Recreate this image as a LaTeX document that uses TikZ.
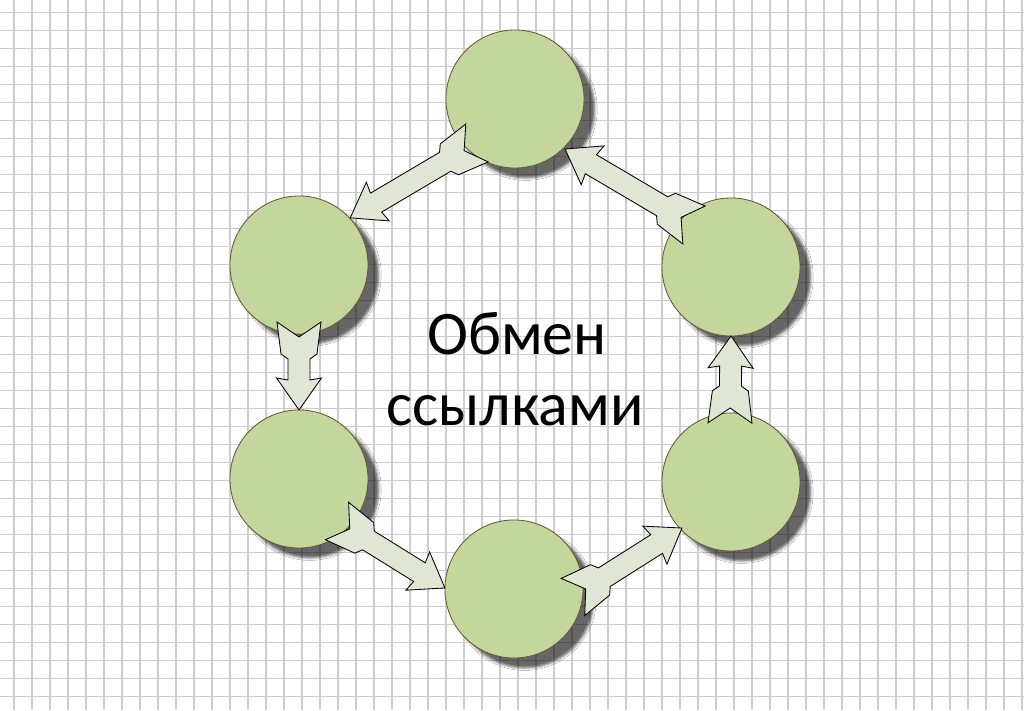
\documentclass[tikz,border=0pt]{standalone}
\usepackage{fontspec}
\setmainfont{Carlito}
\usetikzlibrary{calc,shadows,shadows.blur}

\definecolor{bubblegreen}{RGB}{195,214,155}
\definecolor{bubbleedge}{RGB}{105,85,55}
\definecolor{linkfill}{RGB}{224,230,212}
\definecolor{gridgray}{RGB}{205,205,205}

\newcommand\linkunit{0.711319}
\newcommand\linktailw{22}
\newcommand\linktailn{18}
\newcommand\linktaill{32}
\newcommand\linknotch{15}
\newcommand\linkshaftw{11}
\newcommand\linkheadw{22.5}
\newcommand\linkheadl{30}
\newcommand\linkarrow[2]{
  \pgfmathanglebetweenpoints{\pgfpointanchor{#1}{center}}{\pgfpointanchor{#2}{center}}
  \let\linkangle\pgfmathresult
  \pgfpointdiff{\pgfpointanchor{#1}{center}}{\pgfpointanchor{#2}{center}}
  \pgfgetlastxy{\linkdx}{\linkdy}
  \pgfmathparse{veclen(\linkdx,\linkdy)/\linkunit}\let\linklen\pgfmathresult
  \begin{scope}[shift={(#1)}, rotate=\linkangle]
    \draw[linkbody] (0, \linktailw) -- (\linknotch, 0) -- (0, -\linktailw)
      -- (\linktaill, -\linktailn) -- (\linktaill + 5, -\linkshaftw)
      -- (\linklen - \linkheadl, -\linkshaftw) -- (\linklen - \linkheadl - 2, -\linkheadw)
      -- (\linklen, 0)
      -- (\linklen - \linkheadl - 2, \linkheadw) -- (\linklen - \linkheadl, \linkshaftw)
      -- (\linktaill + 5, \linkshaftw) -- (\linktaill, \linktailn) -- cycle ;
  \end{scope}
}

\tikzset{
  gridline/.style={gridgray, line width=0.8pt},
  bubble/.style={circle, minimum size=3.45cm, inner sep=0pt, fill=bubblegreen,
    draw=bubbleedge, line width=0.6pt,
    blur shadow={shadow xshift=0.27cm, shadow yshift=-0.25cm,
      shadow blur radius=0.06cm, shadow opacity=60}},
  linkbody/.style={fill=linkfill, draw=black, line width=0.6pt, line join=miter},
  caption/.style={anchor=base, inner sep=0pt, font=\fontsize{44}{50}\selectfont}
}

\begin{document}
\begin{tikzpicture}[x=0.025cm, y=0.025cm]
  \useasboundingbox (0, 0) rectangle (1024, 710) ;
  \fill[white] (0, 0) rectangle (1024, 710) ;
  \foreach \gx in {0,...,56}
    \draw[gridline] (14 + 18 * \gx, 0) -- (14 + 18 * \gx, 710) ;
  \foreach \gy in {0,...,38}
    \draw[gridline] (0, 13.7 + 18 * \gy) -- (1024, 13.7 + 18 * \gy) ;

  \node[bubble] (top) at (515, 611) {} ;
  \node[bubble] (upleft) at (299, 445) {} ;
  \node[bubble] (lowleft) at (299, 231) {} ;
  \node[bubble] (bottom) at (514, 121) {} ;
  \node[bubble] (lowright) at (731, 228) {} ;
  \node[bubble] (upright) at (731, 443) {} ;

  \coordinate (topout) at (477, 567) ;
  \coordinate (upleftin) at (350, 492) ;
  \coordinate (upleftout) at (299, 388) ;
  \coordinate (lowleftin) at (299, 300) ;
  \coordinate (lowleftout) at (337, 189) ;
  \coordinate (bottomin) at (445, 122) ;
  \coordinate (bottomout) at (573, 113) ;
  \coordinate (lowrightin) at (682, 182) ;
  \coordinate (lowrightout) at (730, 287) ;
  \coordinate (uprightin) at (731, 374) ;
  \coordinate (uprightout) at (694, 485) ;
  \coordinate (topin) at (565, 561) ;

  \linkarrow{topout}{upleftin}
  \linkarrow{upleftout}{lowleftin}
  \linkarrow{lowleftout}{bottomin}
  \linkarrow{bottomout}{lowrightin}
  \linkarrow{lowrightout}{uprightin}
  \linkarrow{uprightout}{topin}

  \node[caption] (exchange) at (517, 355) {Обмен} ;
  \node[caption] (links) at (515, 284) {ссылками} ;
\end{tikzpicture}
\end{document}
